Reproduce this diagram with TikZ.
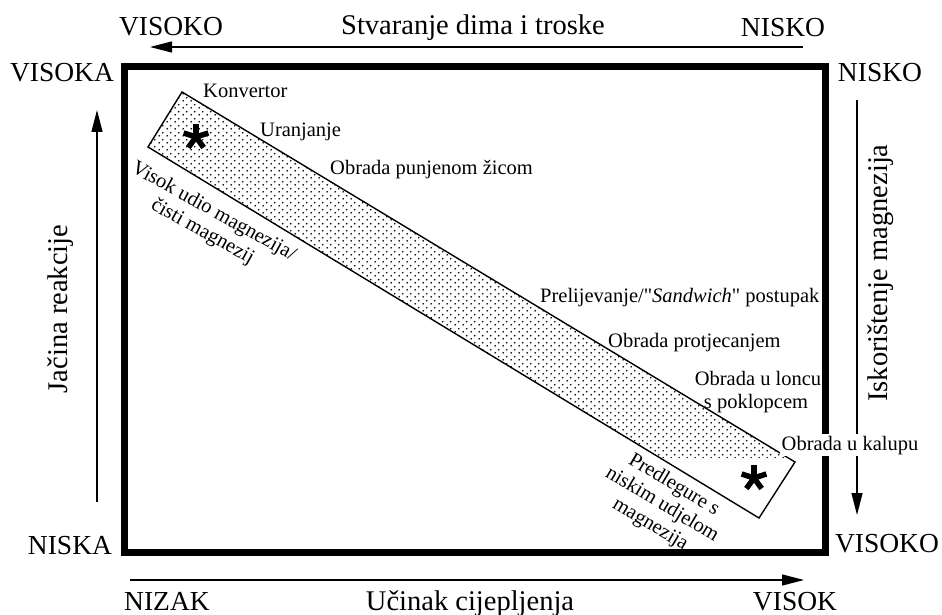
\documentclass[tikz,border=0pt]{standalone}
\usepackage{fontspec}
\setmainfont{Liberation Serif}[Ligatures=TeXOff]
\usetikzlibrary{arrows.meta,patterns}
\pgfdeclarepatternformonly{banddots}{\pgfqpoint{0pt}{0pt}}{\pgfqpoint{7.5pt}{6.5pt}}{\pgfqpoint{7.5pt}{6.5pt}}{%
  \pgfpathcircle{\pgfqpoint{1.3pt}{1.3pt}}{1pt}%
  \pgfpathcircle{\pgfqpoint{5.05pt}{4.55pt}}{1pt}%
  \pgfusepath{fill}}
\newcommand\bandstar[1]{\foreach \a in {270,342,54,126,198} \draw[line width=5.5pt] (#1) -- ++(\a:13);}
\tikzset{
  ends/.style={font=\fontsize{27.5}{30}\selectfont, inner sep=0pt, anchor=base},
  axtitle/.style={font=\fontsize{28.5}{31}\selectfont, inner sep=0pt, anchor=base},
  proc/.style={font=\fontsize{20.5}{23}\selectfont, inner sep=0pt, anchor=base},
  slant/.style={font=\fontsize{20.5}{23}\selectfont, inner sep=0pt, align=center},
  bigframe/.style={line width=7pt, line join=miter},
  axarrow/.style={line width=1.3pt, -{Triangle[length=22pt,width=11pt]}},
  bandline/.style={line width=1.4pt, line join=miter}
}

\begin{document}
\begin{tikzpicture}[x=1pt, y=-1pt]
  \useasboundingbox (0,0) rectangle (942,615);
  \draw[bigframe] (124,66.5) rectangle (825,552);

  \coordinate (A) at (182,92);
  \coordinate (B) at (795,462);
  \coordinate (C) at (759,518);
  \coordinate (D) at (148,147);
  \fill[pattern=banddots] (A) -- (788,458) -- (659,458) -- (D) -- cycle;
  \draw[bandline] (A) -- (B) -- (C) -- (D) -- cycle;
  \coordinate (star1) at (196,137);
  \coordinate (star2) at (754,478);
  \bandstar{star1}
  \bandstar{star2}

  \coordinate (topR) at (803,47);
  \coordinate (topL) at (150,47);
  \coordinate (botL) at (130,580);
  \coordinate (botR) at (804,580);
  \coordinate (leftB) at (97,502);
  \coordinate (leftT) at (97,110);
  \coordinate (rightT) at (857,100);
  \coordinate (rightB) at (857,515);
  \draw[axarrow] (topR) -- (topL);
  \draw[axarrow] (botL) -- (botR);
  \draw[axarrow] (leftB) -- (leftT);
  \draw[axarrow] (rightT) -- (rightB);

  \node[ends] (vtop) at (171,36) {VISOKO};
  \node[axtitle] (dim) at (473,35) {Stvaranje dima i troske};
  \node[ends] (ntop) at (783,37) {NISKO};
  \node[ends] (vleft) at (62,82) {VISOKA};
  \node[ends] (nright) at (880,82) {NISKO};
  \node[ends] (nleft) at (70,554) {NISKA};
  \node[ends] (vright) at (887,552) {VISOKO};
  \node[ends] (nbot) at (167,610) {NIZAK};
  \node[axtitle] (ucin) at (470,610) {Učinak cijepljenja};
  \node[ends] (vbot) at (795,610) {VISOK};
  \node[axtitle, rotate=90] (jac) at (67,309) {Jačina reakcije};
  \node[axtitle, rotate=90] (isk) at (887,273) {Iskorištenje magnezija};

  \node[proc, anchor=base west] (konv) at (203,98) {Konvertor};
  \node[proc, anchor=base west] (uran) at (260,137) {Uranjanje};
  \node[proc, anchor=base west] (zica) at (330,174) {Obrada punjenom žicom};
  \node[proc, anchor=base west] (prel) at (540,302) {Prelijevanje/"\textit{Sandwich}" postupak};
  \node[proc, anchor=base west] (prot) at (608,347) {Obrada protjecanjem};
  \node[proc] (lonac) at (758,385) {Obrada u loncu};
  \node[proc] (poklop) at (756,408) {s poklopcem};
  \node[proc, fill=white, inner sep=2pt] (kalup) at (850,450) {Obrada u kalupu};
  \node[slant, rotate=-29] (visok) at (208,222) {Visok udio magnezija/\\čisti magnezij};
  \node[slant, rotate=-31] (predl) at (662,505) {Predlegure s\\niskim udjelom\\magnezija};
\end{tikzpicture}
\end{document}
